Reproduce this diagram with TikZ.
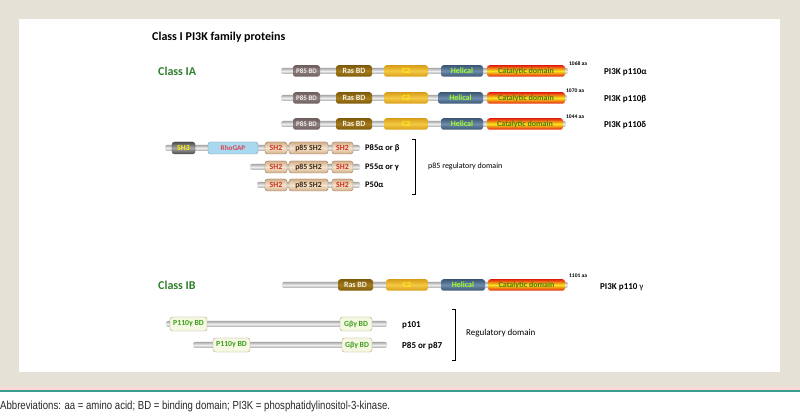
\documentclass[tikz,border=0pt]{standalone}
\usepackage{fontspec}
\setmainfont{Carlito}
\newfontfamily\abbrfont[FakeStretch=0.82]{Liberation Sans}
\usetikzlibrary{positioning}

\definecolor{beige}{HTML}{E6E1D7}
\definecolor{tealline}{HTML}{3A9E8F}
\definecolor{classgreen}{HTML}{2F7F2F}
\definecolor{bbedge}{HTML}{A9A9A9}
\definecolor{bbmid}{HTML}{EDEDED}
\definecolor{pbddark}{HTML}{6E5E5E}
\definecolor{pbdlight}{HTML}{8E7E7E}
\definecolor{rasdark}{HTML}{7E5A08}
\definecolor{raslight}{HTML}{A47C1E}
\definecolor{ctwodark}{HTML}{D89E18}
\definecolor{ctwolight}{HTML}{F4C845}
\definecolor{heldark}{HTML}{3C5675}
\definecolor{hellight}{HTML}{6D8BAA}
\definecolor{catred}{HTML}{E4200E}
\definecolor{catyellow}{HTML}{F8E41E}
\definecolor{catgreen}{HTML}{4E7A0C}
\definecolor{shdark}{HTML}{D2AE88}
\definecolor{shlight}{HTML}{F6E4CC}
\definecolor{shred}{HTML}{CC2E1E}
\definecolor{rhoblue}{HTML}{A9D9F0}
\definecolor{rhored}{HTML}{E0404E}
\definecolor{gbfill}{HTML}{F5F8E2}
\definecolor{gbgreen}{HTML}{3E9E1E}

\begin{document}
\begin{tikzpicture}[x=1pt,y=-1pt]
   \tikzstyle{every node}=[inner sep=0pt]
   \tikzstyle{backbone}=[rounded corners=2pt, top color=bbedge, bottom color=bbedge, middle color=bbmid]
   \tikzstyle{dombox}=[rounded corners=2.5pt, minimum height=11.5pt, font=\fontsize{8}{9}\selectfont\bfseries]
   \tikzstyle{pbdbox}=[dombox, font=\fontsize{7}{8}\selectfont\bfseries, top color=pbddark, bottom color=pbddark, middle color=pbdlight, text=white!90!pbddark]
   \tikzstyle{rasbox}=[dombox, top color=rasdark, bottom color=rasdark, middle color=raslight, text=white!92!rasdark]
   \tikzstyle{ctwobox}=[dombox, top color=ctwodark, bottom color=ctwodark, middle color=ctwolight, text=yellow!85!ctwolight]
   \tikzstyle{helbox}=[dombox, top color=heldark, bottom color=heldark, middle color=hellight, text=green!45!yellow!85!white]
   \tikzstyle{catbox}=[dombox, top color=catred, bottom color=catred, middle color=catyellow, text=catgreen]
   \tikzstyle{regbox}=[rounded corners=2.5pt, minimum height=12pt, draw=shdark!70!black, line width=0.4pt, font=\fontsize{7.8}{8}\selectfont\bfseries]
   \tikzstyle{shtwobox}=[regbox, top color=shdark, bottom color=shdark, middle color=shlight, text=shred]
   \tikzstyle{psbox}=[shtwobox, text=black!70!brown]
   \tikzstyle{shthreebox}=[regbox, draw=black!70, top color=black!70, bottom color=black!70, middle color=black!35, text=yellow]
   \tikzstyle{rhobox}=[regbox, draw=rhoblue!70!black, fill=rhoblue, font=\fontsize{7.2}{8}\selectfont\bfseries, text=rhored]
   \tikzstyle{gbbox}=[regbox, minimum height=14pt, draw=shdark!90!black, fill=gbfill, text=gbgreen]
   \tikzstyle{aalabel}=[anchor=west, font=\fontsize{5.5}{6}\selectfont\bfseries]
   \tikzstyle{protlabel}=[anchor=west, font=\fontsize{9}{10}\selectfont\bfseries]
   \tikzstyle{classlabel}=[anchor=west, text=classgreen, font=\fontsize{12}{14}\selectfont\bfseries]
   \tikzstyle{bracket}=[line width=1pt]

\useasboundingbox (0,0) rectangle (800,419);
\fill[beige] (0,0) rectangle (800,387);
\fill[white] (19,19) rectangle (780,372);
\fill[red!15] (0,387) rectangle (800,390.5);
\draw[tealline, line width=1.2pt] (0,391) -- (800,391);
\node[anchor=west, font=\abbrfont\fontsize{11.7}{13}\selectfont, text=black!85] (abbr) at (0,406)
    {Abbreviations: aa = amino acid; BD = binding domain; PI3K = phosphatidylinositol-3-kinase.};

\node[anchor=west, font=\fontsize{12}{14}\selectfont\bfseries] (title) at (152,37) {Class I PI3K family proteins};

% class IA
\node[classlabel] (cia) at (158,71) {Class IA};

\shade[backbone] (281,68) rectangle (568,74);
\node[pbdbox, minimum width=27pt] (pbda) at (306.5,71) {P85 BD};
\node[rasbox, minimum width=36pt] (rasa) at (354,71) {Ras BD};
\node[ctwobox, minimum width=44pt] (ctwoa) at (406,71) {C2};
\node[helbox, minimum width=42pt] (hela) at (462,71) {Helical};
\node[catbox, minimum width=78pt] (cata) at (526,71) {Catalytic domain};
\node[aalabel] (aaa) at (569,64) {1068 aa};
\node[protlabel] (pa) at (604,72) {PI3K p110α};

\shade[backbone] (281,95) rectangle (567,101);
\node[pbdbox, minimum width=27pt] (pbdb) at (306.5,98) {P85 BD};
\node[rasbox, minimum width=36pt] (rasb) at (354,98) {Ras BD};
\node[ctwobox, minimum width=44pt] (ctwob) at (406,98) {C2};
\node[helbox, minimum width=45pt] (helb) at (460.5,98) {Helical};
\node[catbox, minimum width=78pt] (catb) at (526,98) {Catalytic domain};
\node[aalabel] (aab) at (566,91) {1070 aa};
\node[protlabel] (pb) at (604,99) {PI3K p110β};

\shade[backbone] (281,121) rectangle (566,127);
\node[pbdbox, minimum width=27pt] (pbdd) at (306.5,124) {P85 BD};
\node[rasbox, minimum width=36pt] (rasd) at (354,124) {Ras BD};
\node[ctwobox, minimum width=44pt] (ctwod) at (406,124) {C2};
\node[helbox, minimum width=42pt] (held) at (462,124) {Helical};
\node[catbox, minimum width=76pt] (catd) at (525,124) {Catalytic domain};
\node[aalabel] (aad) at (566,117) {1044 aa};
\node[protlabel] (pd) at (604,125) {PI3K p110δ};

% p85 regulatory subunits
\shade[backbone] (165,145) rectangle (360,151);
\node[shthreebox, minimum width=23pt] (shthree) at (183.5,148) {SH3};
\node[rhobox, minimum width=50pt] (rho) at (233,148) {RhoGAP};
\node[shtwobox, minimum width=22pt] (nsha) at (276,148) {SH2};
\node[psbox, minimum width=39pt] (isha) at (308.5,148) {p85 SH2};
\node[shtwobox, minimum width=21pt] (csha) at (342.5,148) {SH2};
\node[protlabel, font=\fontsize{8.5}{10}\selectfont\bfseries] (rega) at (365,148) {P85α or β};

\shade[backbone] (250,164) rectangle (360,170);
\node[shtwobox, minimum width=22pt] (nshb) at (276,167) {SH2};
\node[psbox, minimum width=39pt] (ishb) at (308.5,167) {p85 SH2};
\node[shtwobox, minimum width=21pt] (cshb) at (342.5,167) {SH2};
\node[protlabel, font=\fontsize{8.5}{10}\selectfont\bfseries] (regb) at (365,167) {P55α or γ};

\shade[backbone] (257,182) rectangle (360,188);
\node[shtwobox, minimum width=22pt] (nshc) at (276,185) {SH2};
\node[psbox, minimum width=39pt] (ishc) at (308.5,185) {p85 SH2};
\node[shtwobox, minimum width=21pt] (cshc) at (342.5,185) {SH2};
\node[protlabel, font=\fontsize{8.5}{10}\selectfont\bfseries] (regc) at (365,185) {P50α};

\coordinate (bra) at (415,140);
\coordinate (brb) at (415,195);
\draw[bracket] ([xshift=-3pt]bra) -- (bra) -- (brb) -- ([xshift=-3pt]brb);
\node[anchor=west, font=\fontsize{8}{10}\selectfont] (regdom) at (428,166) {p85 regulatory domain};

% class IB
\node[classlabel] (cib) at (158,285) {Class IB};

\shade[backbone] (282,282) rectangle (568,288);
\node[rasbox, minimum width=35pt] (rasg) at (355.5,285) {Ras BD};
\node[ctwobox, minimum width=42pt] (ctwog) at (407,285) {C2};
\node[helbox, minimum width=44pt] (helg) at (463,285) {Helical};
\node[catbox, minimum width=77pt] (catg) at (526.5,285) {Catalytic domain};
\node[aalabel] (aag) at (569,276) {1101 aa};
\node[protlabel] (pg) at (600,287) {PI3K p110 {\mdseries γ}};

\shade[backbone] (166,321) rectangle (387,327);
\node[gbbox, minimum width=37pt] (pbda) at (188.5,324) {P110γ BD};
\node[gbbox, minimum width=32pt] (gbga) at (356,324) {Gβγ BD};
\node[protlabel] (pone) at (402,325) {p101};

\shade[backbone] (193,342) rectangle (387,348);
\node[gbbox, minimum width=37pt] (pbdb) at (231.5,345) {P110γ BD};
\node[gbbox, minimum width=30pt] (gbgb) at (357,345) {Gβγ BD};
\node[protlabel] (peight) at (402,346) {P85 or p87};

\coordinate (brc) at (455,310);
\coordinate (brd) at (455,360);
\draw[bracket] ([xshift=-3pt]brc) -- (brc) -- (brd) -- ([xshift=-3pt]brd);
\node[anchor=west, font=\fontsize{9}{10}\selectfont] (regdomb) at (466,333) {Regulatory domain};

\end{tikzpicture}
\end{document}
